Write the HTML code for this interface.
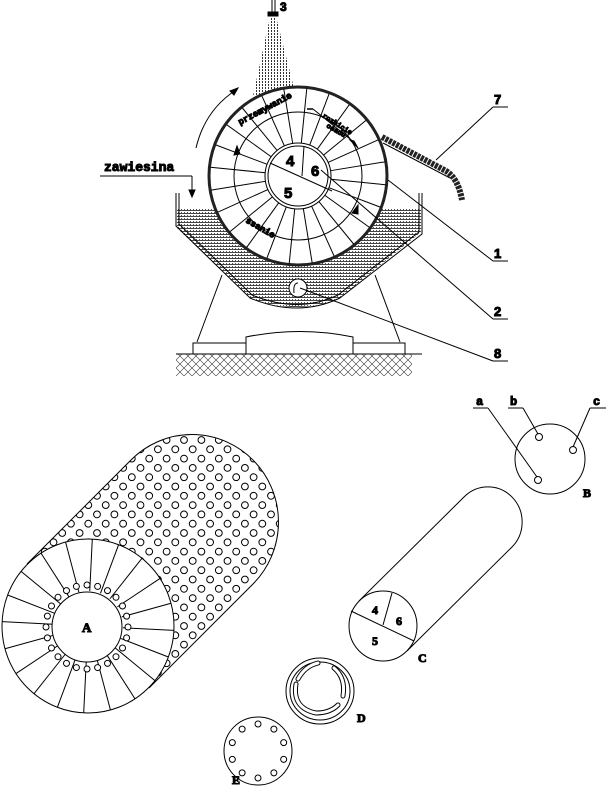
<!DOCTYPE html>
<html><head><meta charset="utf-8"><style>
html,body{margin:0;padding:0;background:#fff;}
svg{display:block}
text{font-family:"Liberation Serif",serif;font-weight:bold;fill:#000}
.m{font-family:"Liberation Mono",monospace}
.s{font-family:"Liberation Sans",sans-serif}
</style></head><body>
<svg id="sv" width="606" height="787" viewBox="0 0 606 787" xmlns="http://www.w3.org/2000/svg" fill="none" stroke="#000" stroke-width="1">
<defs>
<pattern id="liq" width="3" height="3" patternUnits="userSpaceOnUse"><rect width="3" height="3" fill="#fff" stroke="none"/><rect x="0" y="0" width="3" height="1" fill="#444" stroke="none"/><rect x="1" y="2" width="1" height="1" fill="#555" stroke="none"/></pattern>
<pattern id="spr" width="3" height="3" patternUnits="userSpaceOnUse"><rect x="1" y="0" width="1" height="2" fill="#333" stroke="none"/></pattern>
<pattern id="hat" width="8" height="8" patternUnits="userSpaceOnUse"><path d="M0 0L8 8M8 0L0 8" stroke="#333" stroke-width="0.6"/></pattern>
<clipPath id="cylA"><path d="M27 564 L131 460 A86 87 0 0 1 253 584 L149 688 Z"/></clipPath>
<clipPath id="liqc"><path d="M177 208 L421 208 L421 232 L340 298 Q298 316 250 298 L177 228 Z"/></clipPath>
</defs>

<!-- nozzle 3 -->
<line x1="272" y1="0" x2="272" y2="12"/><line x1="275" y1="0" x2="275" y2="12"/>
<rect x="268" y="12" width="10" height="4" fill="#000"/>
<path d="M270 17 L276 17 L295 92 L253 96 Z" fill="url(#spr)" stroke="none"/>
<text x="280" y="11" class="s" font-size="12">3</text>

<!-- tank liquid -->
<g clip-path="url(#liqc)"><rect x="170" y="200" width="260" height="120" fill="url(#liq)" stroke="none"/></g>
<path d="M176 193 L176 226 L250 298 Q298 318 340 298 L422 234 L422 193" stroke-width="1"/>
<path d="M179 193 L179 224 L252 295 Q298 314 338 295 L419 232 L419 193" stroke-width="1"/>
<!-- supports -->
<line x1="222" y1="275" x2="197" y2="342"/><line x1="375" y1="275" x2="400" y2="342"/>
<rect x="193" y="343" width="212" height="11"/>
<path d="M246 354 L246 337 Q300 326 353 337 L353 354" fill="#fff"/>
<rect x="176" y="354" width="236" height="22" fill="url(#hat)" stroke="none"/>
<line x1="176" y1="354" x2="422" y2="354"/>
<!-- pipe 8 -->
<circle cx="298" cy="288" r="9" fill="#fff"/>
<path d="M294 293 Q293 283 298 283"/>

<!-- drum -->
<circle cx="298" cy="176" r="89" fill="#fff" stroke="#222" stroke-width="3"/>
<circle cx="298" cy="176" r="64"/>
<g id="spk"></g>
<circle cx="298" cy="176" r="33" fill="#fff"/>
<circle cx="298" cy="176" r="30" fill="#fff"/>
<line x1="270" y1="163" x2="332" y2="191"/>
<line x1="302" y1="176" x2="304" y2="146"/>
<text x="286" y="166" font-size="15" class="s">4</text>
<text x="311" y="176" font-size="15" class="s">6</text>
<text x="284" y="198" font-size="15" class="s">5</text>
<text x="240" y="125" font-size="9" class="m" transform="rotate(-28 240 125)">przemywanie</text>
<text x="322" y="117" font-size="7" class="m" transform="rotate(32 322 117)">rozbicie</text>
<text x="326" y="127" font-size="7" class="m" transform="rotate(30 326 127)">osadu</text>
<text x="245" y="222" font-size="9" class="m" transform="rotate(30 245 222)">ssanie</text>
<path d="M237 146 L234 155 L240 154 Z" fill="#000"/>
<path d="M358 205 L352 213 L358 214 Z" fill="#000"/>
<path d="M307 109 L313 109" stroke-width="1.5"/><path d="M350 140 L358 148 L354 141 Z" fill="#000"/>
<line x1="313" y1="109" x2="355" y2="143"/>
<!-- rotation arrow -->
<path d="M196 148 Q205 110 236 90"/><path d="M238 88 L230 91 L234 95 Z" fill="#000"/>

<!-- cake 7 -->
<path d="M382 137 L446 171 Q458 178 462 200" stroke="#222" stroke-width="6" stroke-dasharray="3 1"/>
<line x1="383" y1="143" x2="450" y2="178"/>
<line x1="436" y1="160" x2="493" y2="107"/><line x1="493" y1="107" x2="508" y2="107"/>
<text x="494" y="104" font-size="13" class="s">7</text>
<!-- leaders -->
<line x1="388" y1="180" x2="493" y2="261"/><line x1="493" y1="261" x2="508" y2="261"/>
<text x="494" y="258" font-size="13" class="s">1</text>
<line x1="321" y1="170" x2="493" y2="319"/><line x1="493" y1="319" x2="508" y2="319"/>
<text x="494" y="316" font-size="13" class="s">2</text>
<line x1="300" y1="288" x2="493" y2="361"/><line x1="493" y1="361" x2="508" y2="361"/>
<text x="494" y="358" font-size="13" class="s">8</text>
<!-- zawiesina -->
<text x="104" y="171" font-size="13" class="m">zawiesina</text>
<line x1="100" y1="176" x2="192" y2="176"/><line x1="192" y1="176" x2="192" y2="192"/>
<path d="M189 190 L195 190 L192 197 Z" fill="#000"/>

<!-- ===== bottom ===== -->
<path d="M27 564 L131 460 A86 87 0 0 1 253 584 L149 688"/>
<g id="holesA" clip-path="url(#cylA)"></g>
<ellipse cx="88" cy="626" rx="86" ry="87" fill="#fff"/>
<g id="spkA"></g>
<ellipse cx="87" cy="627" rx="35" ry="35" fill="#fff"/>
<g id="ringA"></g>
<text x="82" y="632" font-size="13">A</text>

<!-- C -->
<path d="M359 601 L464 497 A34 35 0 0 1 512 547 L407 651"/>
<ellipse cx="383" cy="626" rx="34" ry="35" fill="#fff"/>
<line x1="351" y1="611" x2="414" y2="641"/><line x1="392" y1="593" x2="383" y2="625"/>
<text x="372" y="614" font-size="12">4</text>
<text x="396" y="625" font-size="12">6</text>
<text x="372" y="645" font-size="12">5</text>
<text x="418" y="662" font-size="12">C</text>

<!-- B -->
<ellipse cx="550" cy="459" rx="35" ry="35"/>
<circle cx="539" cy="437" r="3.5"/><circle cx="573" cy="450" r="3.5"/><circle cx="538" cy="480" r="3.5"/>
<line x1="473" y1="408" x2="488" y2="408"/><line x1="488" y1="408" x2="537" y2="477"/>
<line x1="508" y1="408" x2="523" y2="408"/><line x1="523" y1="408" x2="538" y2="434"/>
<line x1="590" y1="408" x2="606" y2="408"/><line x1="590" y1="408" x2="573" y2="447"/>
<text x="476" y="405" font-size="12" class="m">a</text>
<text x="510" y="405" font-size="12" class="m">b</text>
<text x="593" y="405" font-size="12" class="m">c</text>
<text x="583" y="497" font-size="12">B</text>

<!-- D -->
<ellipse cx="320" cy="691" rx="34" ry="33"/>
<ellipse cx="320" cy="691" rx="30" ry="29"/>
<path d="M298 679 Q305 666 318 663" stroke-width="5" stroke-linecap="round"/>
<path d="M298 679 Q305 666 318 663" stroke="#fff" stroke-width="3" stroke-linecap="round"/>
<path d="M334 668 Q346 678 343 696" stroke-width="5" stroke-linecap="round"/>
<path d="M334 668 Q346 678 343 696" stroke="#fff" stroke-width="3" stroke-linecap="round"/>
<path d="M296 684 Q292 708 316 713 Q330 713 338 705" stroke-width="5" stroke-linecap="round"/>
<path d="M296 684 Q292 708 316 713 Q330 713 338 705" stroke="#fff" stroke-width="3" stroke-linecap="round"/>
<text x="357" y="722" font-size="12">D</text>

<!-- E -->
<ellipse cx="258" cy="751" rx="34" ry="34"/>
<g id="holesE"></g>
<text x="232" y="784" font-size="12">E</text>
</svg>
<script>
var NS="http://www.w3.org/2000/svg";
function el(p,t,a){var e=document.createElementNS(NS,t);for(var k in a)e.setAttribute(k,a[k]);p.appendChild(e);return e;}
var g=document.getElementById('spk');
for(var i=0;i<24;i++){var a=i/24*2*Math.PI+0.1;el(g,'line',{x1:298+33*Math.cos(a),y1:176+33*Math.sin(a),x2:298+88*Math.cos(a),y2:176+88*Math.sin(a)});}
var h=document.getElementById('holesA');
for(var r=0;r<40;r++){for(var c=-5;c<25;c++){var x=c*17.4+(r%2?8.7:0)+10,y=440+r*9.3;el(h,'ellipse',{cx:x,cy:y,rx:3.4,ry:3.4});}}
var s=document.getElementById('spkA');
for(var i=0;i<20;i++){var a=i/20*2*Math.PI+0.05;el(s,'line',{x1:88+35*Math.cos(a),y1:626+35*Math.sin(a),x2:88+86*Math.cos(a),y2:626+87*Math.sin(a)});}
var rg=document.getElementById('ringA');
for(var i=0;i<24;i++){var a=i/24*2*Math.PI;el(rg,'ellipse',{cx:87+41*Math.cos(a),cy:627+42*Math.sin(a),rx:3,ry:3,fill:'#fff'});}
var he=document.getElementById('holesE');
for(var i=0;i<10;i++){var a=i/10*2*Math.PI-Math.PI/2;el(he,'ellipse',{cx:258+27*Math.cos(a),cy:751+27*Math.sin(a),rx:3,ry:3});}
</script>
</body></html>
